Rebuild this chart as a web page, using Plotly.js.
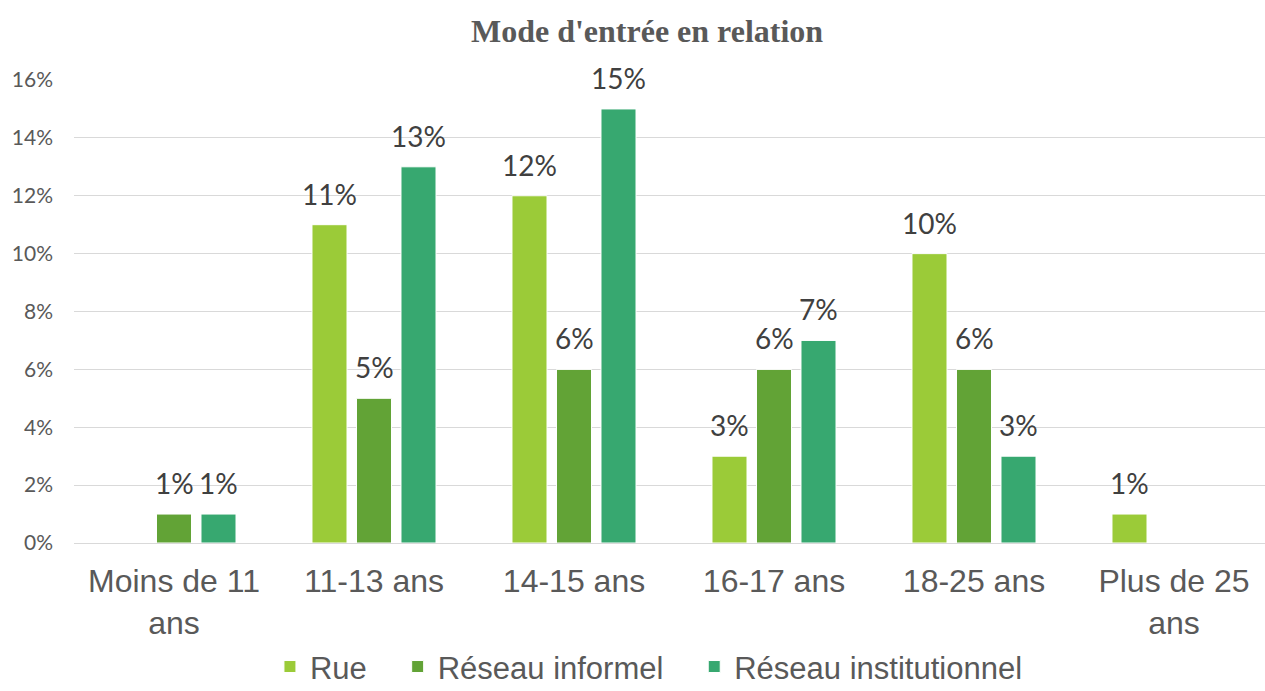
<!DOCTYPE html>
<html>
<head>
<meta charset="utf-8">
<script src="https://cdn.plot.ly/plotly-3.0.1.min.js"></script>
<style>
  html, body { margin: 0; padding: 0; background: #fff; }
  #chart { width: 1265px; height: 691px; }
</style>
</head>
<body>
<div id="chart"></div>
<script>
var categories = ['Moins de 11<br>ans', '11-13 ans', '14-15 ans', '16-17 ans', '18-25 ans', 'Plus de 25<br>ans'];
var seriesNames = ['Rue', 'Réseau informel', 'Réseau institutionnel'];
var rue = [null, 0.11, 0.12, 0.03, 0.10, 0.01];
var informel = [0.01, 0.05, 0.06, 0.06, 0.06, null];
var institutionnel = [0.01, 0.13, 0.15, 0.07, 0.03, null];
var colors = ['#9BCB38', '#62A336', '#37A870'];
var yTicks = [0, 0.02, 0.04, 0.06, 0.08, 0.10, 0.12, 0.14, 0.16];

var allSeries = [rue, informel, institutionnel];
var bargap = 0.3325;
var slot = (1 - bargap) / allSeries.length;
// extra spacing after legend entries (non-breaking spaces)
var legendPad = ['\u00a0\u00a0\u00a0', '\u00a0\u00a0\u00a0', ''];

var data = allSeries.map(function (vals, i) {
  return {
    x: categories,
    y: vals,
    type: 'bar',
    name: seriesNames[i] + legendPad[i],
    marker: { color: colors[i], line: { color: '#ffffff', width: 1 } },
    hoverinfo: 'none'
  };
});

// data labels above each bar
var annotations = [];
allSeries.forEach(function (vals, i) {
  vals.forEach(function (v, j) {
    if (v === null) return;
    annotations.push({
      x: j + (i - 1) * slot,
      y: v,
      xref: 'x',
      yref: 'y',
      text: Math.round(v * 100) + '%',
      showarrow: false,
      yanchor: 'bottom',
      yshift: 12,
      font: { family: 'Lato, sans-serif', size: 28, color: '#404040' }
    });
  });
});

var layout = {
  width: 1265,
  height: 691,
  paper_bgcolor: '#ffffff',
  plot_bgcolor: '#ffffff',
  margin: { l: 74, r: 0, t: 80, b: 148 },
  title: {
    text: "<b>Mode d'entrée en relation</b>",
    font: { family: 'Liberation Serif, Times New Roman, serif', size: 32, color: '#595959' },
    xref: 'container',
    yref: 'container',
    x: 0.5115,
    xanchor: 'center',
    y: 0.955,
    yanchor: 'middle'
  },
  barmode: 'group',
  bargap: bargap,
  bargroupgap: 0.213,
  xaxis: {
    type: 'category',
    range: [-0.5, 5.455],
    showgrid: false,
    showline: false,
    zeroline: false,
    ticks: '',
    ticklabelstandoff: 16,
    tickfont: { family: 'Liberation Sans, Arial, sans-serif', size: 32, color: '#595959' }
  },
  yaxis: {
    range: [0, 0.16],
    tickvals: yTicks,
    tickformat: '.0%',
    showgrid: true,
    gridcolor: '#d9d9d9',
    gridwidth: 1,
    zeroline: true,
    zerolinecolor: '#d9d9d9',
    zerolinewidth: 1,
    showline: false,
    ticks: '',
    ticklabelstandoff: 20,
    tickfont: { family: 'Lato, sans-serif', size: 21, color: '#595959' }
  },
  showlegend: true,
  legend: {
    orientation: 'h',
    xref: 'container',
    yref: 'container',
    x: 0.513,
    xanchor: 'center',
    y: 0.074,
    yanchor: 'top',
    font: { family: 'Liberation Sans, Arial, sans-serif', size: 31, color: '#595959' },
    itemwidth: 30
  },
  annotations: annotations
};

Plotly.newPlot('chart', data, layout, { displayModeBar: false, staticPlot: true });
</script>
</body>
</html>
